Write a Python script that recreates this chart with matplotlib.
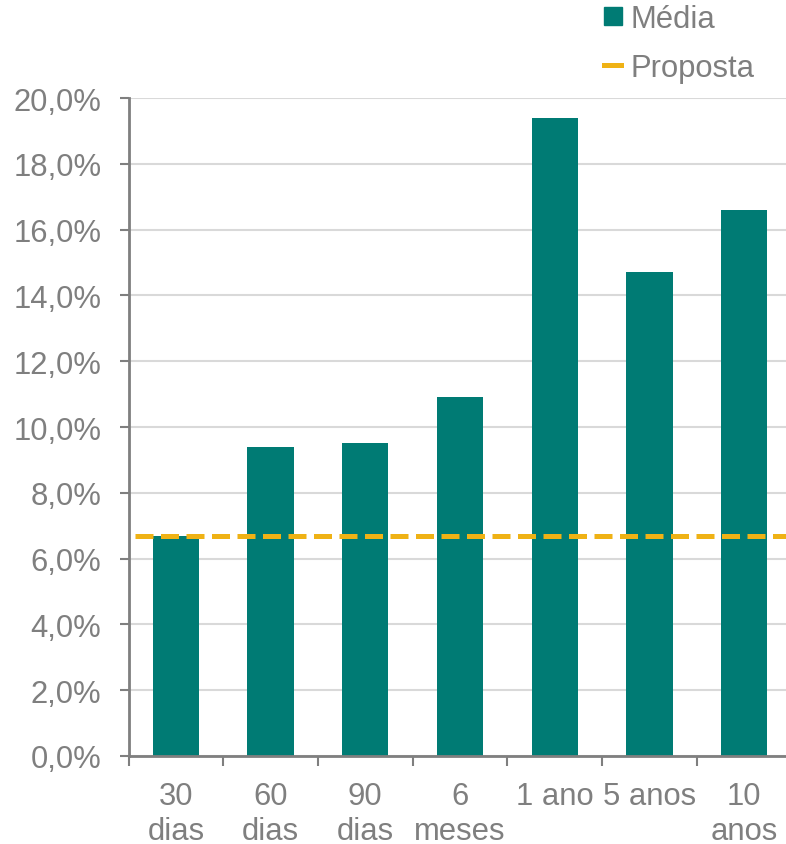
import matplotlib.pyplot as plt
from matplotlib.lines import Line2D
from matplotlib.ticker import FuncFormatter, FixedLocator

plt.rcParams['font.family'] = ['Liberation Sans', 'DejaVu Sans']

# data
categories = ["30\ndias", "60\ndias", "90\ndias", "6\nmeses", "1 ano", "5 anos", "10\nanos"]
media = [6.7, 9.4, 9.5, 10.9, 19.4, 14.7, 16.6]
proposta = 6.7

teal = "#007B74"
orange = "#EFB215"
gray = "#7F7F7F"
fs = 22.3

fig = plt.figure(figsize=(7.86, 8.45), dpi=100)
ax = fig.add_axes([128.5 / 786, 88 / 845, 663 / 786, 658 / 845])

x = range(len(categories))
ax.bar(x, media, width=0.49, color=teal, zorder=2)
ax.axhline(proposta, xmin=0.01, xmax=1, color=orange, lw=3.6,
           dashes=(3.6, 1.5), zorder=3)

ax.set_xlim(-0.5, len(categories) - 0.5)
ax.set_ylim(0, 20)
ax.set_yticks(range(0, 21, 2))
ax.yaxis.set_major_formatter(FuncFormatter(lambda v, p: f"{v:.1f}%".replace(".", ",")))
ax.grid(axis='y', color="#D9D9D9", lw=1.5, zorder=0)
ax.set_axisbelow(True)

# labels at centers, tick marks at boundaries
ax.set_xticks(list(x))
ax.set_xticklabels(categories, linespacing=1.22)
ax.xaxis.set_minor_locator(FixedLocator([i - 0.5 for i in range(len(categories) + 1)]))
ax.tick_params(axis='x', which='major', length=0, pad=18, labelsize=fs, labelcolor=gray)
ax.tick_params(axis='x', which='minor', length=7.2, width=1.5, color=gray)
ax.tick_params(axis='y', length=6.5, width=1.5, color=gray, labelsize=fs,
               labelcolor=gray, pad=13)

for s in ['top', 'right']:
    ax.spines[s].set_visible(False)
for s in ['left', 'bottom']:
    ax.spines[s].set_color(gray)
    ax.spines[s].set_linewidth(2)

handles = [
    Line2D([], [], marker='s', ls='none', color=teal, markersize=12.5),
    Line2D([], [], color=orange, lw=3.6),
]
fig.legend(handles, ["Média", "Proposta"], loc='upper left',
           bbox_to_anchor=(592 / 786, 1.009), frameon=False, fontsize=fs,
           labelcolor=gray, handlelength=0.55, handletextpad=0.3,
           labelspacing=0.63, borderaxespad=0)

fig.savefig("out.png", dpi=100)
